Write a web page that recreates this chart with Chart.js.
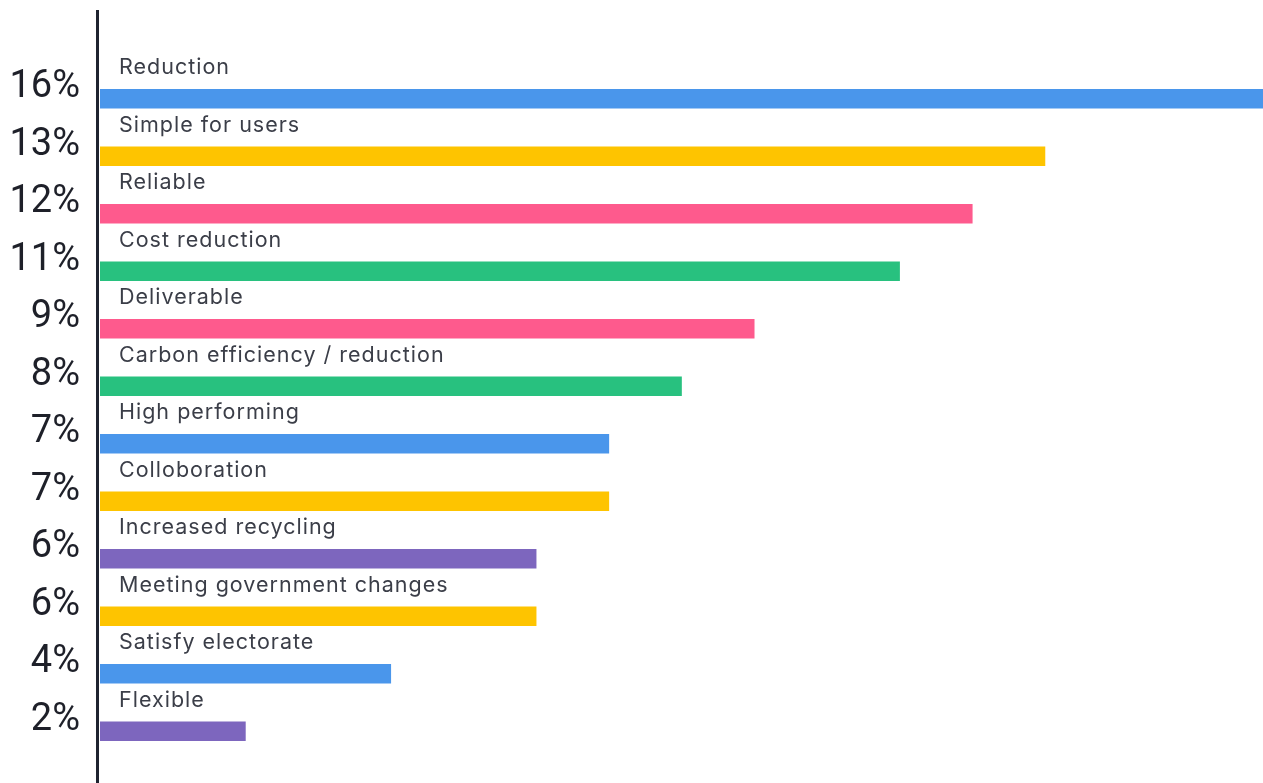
<!DOCTYPE html>
<html>
<head>
<meta charset="utf-8">
<title>Priorities</title>
<script src="https://cdn.jsdelivr.net/npm/chart.js@4.4.1/dist/chart.umd.min.js"></script>
<style>
  html, body { margin: 0; padding: 0; background: #ffffff; }
  #wrap { width: 1263px; height: 783px; position: relative; }
</style>
</head>
<body>
<div id="wrap"><canvas id="priorityChart"></canvas></div>
<script>
// categories, top to bottom
const categories = [
    'Reduction',
    'Simple for users',
    'Reliable',
    'Cost reduction',
    'Deliverable',
    'Carbon efficiency / reduction',
    'High performing',
    'Colloboration',
    'Increased recycling',
    'Meeting government changes',
    'Satisfy electorate',
    'Flexible'
];
// share of responses (%)
const shares = [16, 13, 12, 11, 9, 8, 7, 7, 6, 6, 4, 2];

const BLUE = '#4a96eb';
const YELLOW = '#fec400';
const PINK = '#fe5a8d';
const GREEN = '#28c17f';
const PURPLE = '#7d66be';
const barColors = [BLUE, YELLOW, PINK, GREEN, PINK, GREEN, BLUE, YELLOW, PURPLE, YELLOW, BLUE, PURPLE];

// category name written just above each bar
const barTitles = {
    id: 'barTitles',
    afterDatasetsDraw(chart) {
        const ctx = chart.ctx;
        const meta = chart.getDatasetMeta(0);
        ctx.save();
        ctx.font = '400 21.5px Inter, "Open Sans", sans-serif';
        ctx.letterSpacing = '1px';
        ctx.fillStyle = '#3b3e48';
        ctx.textAlign = 'left';
        ctx.textBaseline = 'middle';
        meta.data.forEach((bar, i) => {
            ctx.fillText(categories[i], chart.chartArea.left + 19, bar.y - 31);
        });
        ctx.restore();
    }
};

// tall vertical axis line running the full height
const axisLine = {
    id: 'axisLine',
    afterDraw(chart) {
        const ctx = chart.ctx;
        const x = chart.chartArea.left - 2.5;
        ctx.save();
        ctx.strokeStyle = '#1f2330';
        ctx.lineWidth = 3;
        ctx.beginPath();
        ctx.moveTo(x, 10);
        ctx.lineTo(x, chart.height);
        ctx.stroke();
        ctx.restore();
    }
};

new Chart(document.getElementById('priorityChart'), {
    type: 'bar',
    data: {
        labels: categories,
        datasets: [{
            data: shares,
            backgroundColor: barColors,
            borderWidth: 0,
            barThickness: 19
        }]
    },
    options: {
        indexAxis: 'y',
        responsive: true,
        maintainAspectRatio: false,
        animation: false,
        layout: {
            padding: { top: 70, bottom: 23, left: 0, right: 0 }
        },
        plugins: {
            legend: { display: false },
            tooltip: { enabled: false }
        },
        scales: {
            x: {
                display: false,
                min: 0,
                max: 16
            },
            y: {
                grid: { display: false, drawTicks: false },
                border: { display: false },
                afterFit(scale) {
                    scale.width = 100;
                    scale.paddingTop = 0;
                    scale.paddingBottom = 0;
                },
                ticks: {
                    padding: 20,
                    labelOffset: -11,
                    color: '#1e2029',
                    font: { family: 'Roboto, sans-serif', size: 38, weight: '400' },
                    callback: (value, i) => shares[i] + '%'
                }
            }
        }
    },
    plugins: [barTitles, axisLine]
});
</script>
</body>
</html>
